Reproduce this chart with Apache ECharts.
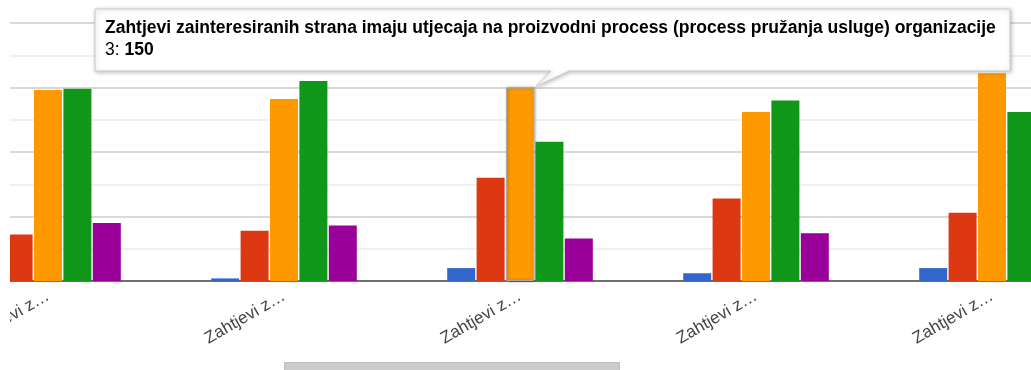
<!DOCTYPE html>
<html>
<head>
<meta charset="utf-8">
<script src="https://cdn.jsdelivr.net/npm/echarts@6/dist/echarts.min.js"></script>
<style>
  html, body { margin: 0; padding: 0; background: #fff; overflow: hidden; }
  #view { position: relative; width: 1031px; height: 370px; overflow: hidden; }
  /* the plot is wider than the view; it is scrolled so the first group is cut off */
  #chart { position: absolute; left: -70px; top: 0; width: 1180px; height: 370px; }
</style>
</head>
<body>
<div id="view"><div id="chart"></div></div>
<script>
// Questions (x categories); only the hovered one shows its full wording
const categories = [
  'Zahtjevi z…',
  'Zahtjevi z…',
  'Zahtjevi zainteresiranih strana imaju utjecaja na proizvodni process (process pružanja usluge) organizacije',
  'Zahtjevi z…',
  'Zahtjevi z…'
];

// Answer ratings 1–5, number of responses per question
const seriesNames = ['1', '2', '3', '4', '5'];
const rating1 = [null, 2, 10, 6, 10];
const rating2 = [36, 39, 80, 64, 53];
const rating3 = [148, 141, 150, 131, 161];
const rating4 = [149, 155, 108, 140, 131];
const rating5 = [45, 43, 33, 37, null];

// Value axis ticks
const yTicks = [0, 50, 100, 150, 200];

const palette = ['#3366cc', '#dc3912', '#ff9900', '#109618', '#990099'];
const hovered = { series: 2, index: 2 };
const SCROLL = 70; // horizontal scroll offset of the plot inside the view

const chart = echarts.init(document.getElementById('chart'), null, { renderer: 'canvas' });

const allSeries = [rating1, rating2, rating3, rating4, rating5];

function shortLabel(name) {
  return name.length > 10 ? name.slice(0, 10) + '…' : name;
}

chart.setOption({
  animation: false,
  backgroundColor: '#ffffff',
  color: palette,
  grid: { left: 0, right: 0, top: 23, bottom: 89, containLabel: false },
  xAxis: {
    type: 'category',
    data: categories,
    axisTick: { show: false },
    axisLine: { show: true, lineStyle: { color: '#6f6f6f', width: 2 } },
    axisLabel: {
      interval: 0,
      rotate: 30,
      margin: 14,
      color: '#444',
      fontFamily: 'Arial, "Liberation Sans", sans-serif',
      fontSize: 17,
      formatter: shortLabel
    },
    splitLine: { show: false }
  },
  yAxis: {
    type: 'value',
    min: yTicks[0],
    max: yTicks[yTicks.length - 1],
    interval: yTicks[1] - yTicks[0],
    axisLine: { show: false },
    axisTick: { show: false },
    axisLabel: { show: false },
    splitLine: { show: true, lineStyle: { color: '#cccccc', width: 1.5 } },
    minorTick: { show: false, splitNumber: 2 },
    minorSplitLine: { show: true, lineStyle: { color: '#ebebeb', width: 1.5 } }
  },
  series: allSeries.map((vals, si) => ({
    name: seriesNames[si],
    type: 'bar',
    barWidth: 28,
    barGap: '5%',
    data: vals.map((v, i) => (si === hovered.series && i === hovered.index)
      ? { value: v, itemStyle: { borderColor: '#a8a8a8', borderWidth: 1, shadowBlur: 3, shadowOffsetX: 1, shadowColor: 'rgba(0,0,0,0.35)' } }
      : v),
    itemStyle: { color: palette[si] }
  }))
});

// Callout box pointing at the hovered bar
const layout = chart.getModel().getSeriesByIndex(hovered.series).getData().getItemLayout(hovered.index);
const barTop = Math.min(layout.y, layout.y + layout.height);
const barRight = Math.max(layout.x, layout.x + layout.width);
const tipX = barRight + 2;
const tipY = barTop - 1;

const box = { left: 95 + SCROLL, right: 1010 + SCROLL, top: 9, bottom: 71 };
const value = allSeries[hovered.series][hovered.index];

chart.setOption({
  graphic: [
    {
      type: 'rect',
      z: 100,
      silent: true,
      shape: { x: 0, y: 0, width: SCROLL + 10, height: 370 },
      style: { fill: '#ffffff' }
    },
    {
      type: 'polygon',
      z: 110,
      silent: true,
      shape: {
        points: [
          [box.left, box.top], [box.right, box.top], [box.right, box.bottom],
          [tipX + 33, box.bottom], [tipX, tipY], [tipX + 15, box.bottom],
          [box.left, box.bottom]
        ]
      },
      style: {
        fill: '#ffffff',
        stroke: '#cccccc',
        lineWidth: 1,
        shadowBlur: 4,
        shadowOffsetX: 1,
        shadowOffsetY: 1,
        shadowColor: 'rgba(0,0,0,0.25)'
      }
    },
    {
      type: 'text',
      z: 120,
      silent: true,
      x: 105 + SCROLL,
      y: 17,
      style: {
        text: '{b|' + categories[hovered.index] + '}\n{n|' + seriesNames[hovered.series] + ': }{b|' + value + '}',
        rich: {
          b: { fontFamily: 'Arial, "Liberation Sans", sans-serif', fontSize: 17.5, fontWeight: 'bold', color: '#000', lineHeight: 22 },
          n: { fontFamily: 'Arial, "Liberation Sans", sans-serif', fontSize: 17.5, color: '#000', lineHeight: 22 }
        }
      }
    },
    {
      type: 'rect',
      z: 100,
      silent: true,
      shape: { x: 284.5 + SCROLL, y: 362.5, width: 335, height: 12 },
      style: { fill: '#cccccc', stroke: '#bdbdbd', lineWidth: 1 }
    }
  ]
});
</script>
</body>
</html>
